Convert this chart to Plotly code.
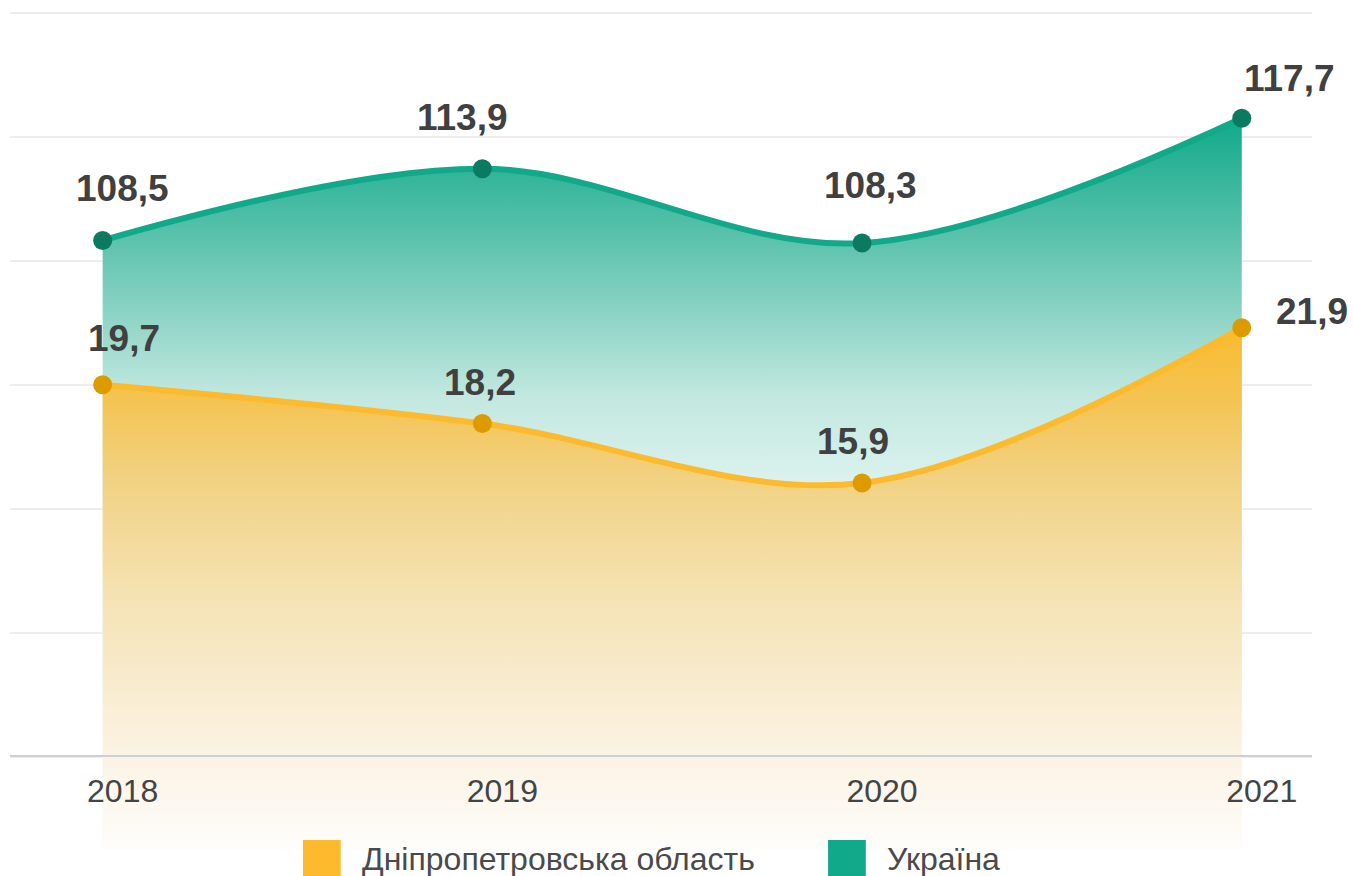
import plotly.graph_objects as go

# Data
years = [2018, 2019, 2020, 2021]
dnipro = [19.7, 18.2, 15.9, 21.9]
ukraine = [108.5, 113.9, 108.3, 117.7]
series_names = ["Дніпропетровська область", "Україна"]

# Styles
FONT = "Liberation Sans, Arial, sans-serif"
ORANGE = "#fdba2c"
ORANGE_DOT = "#de9b00"
TEAL = "#10a98a"
TEAL_DOT = "#0a7b61"
LABEL_COLOR = "#404040"

# label offsets (px) relative to each point
ukr_shift = [(20, 52), (-20, 51), (8, 58), (48, 40)]
dnp_shift = [(21, 46), (-2, 41), (-9, 41), (70, 16)]


def fmt(v):
    return f"{v:.1f}".replace(".", ",")


fig = go.Figure()

fig.add_trace(go.Scatter(
    x=years, y=ukraine, name=series_names[1], yaxis="y",
    mode="lines+markers",
    line=dict(color=TEAL, width=6, shape="spline", smoothing=1),
    marker=dict(color=TEAL_DOT, size=19),
    fill="tozeroy",
    fillgradient=dict(type="vertical", start=62.6, stop=117.7,
                      colorscale=[[0, "#f5fbfa"], [0.48, "#e0f4f0"], [0.62, "#c2e8e0"],
                                  [0.83, "#5ec3ae"], [1, "#11a98a"]]),
    showlegend=False, hoverinfo="skip",
))

fig.add_trace(go.Scatter(
    x=years, y=dnipro, name=series_names[0], yaxis="y2",
    mode="lines+markers",
    line=dict(color=ORANGE, width=6, shape="spline", smoothing=1),
    marker=dict(color=ORANGE_DOT, size=19),
    fill="tozeroy",
    fillgradient=dict(type="vertical", start=1.71, stop=21.9,
                      colorscale=[[0, "#fefdfb"], [0.18, "#fbf3e4"], [0.48, "#f5e3b5"],
                                  [0.71, "#f1d283"], [0.86, "#f4c453"], [1, "#f9bb2f"]]),
    showlegend=False, hoverinfo="skip",
))

annotations = []
for yr, v, (dx, dy) in zip(years, ukraine, ukr_shift):
    annotations.append(dict(x=yr, y=v, xref="x", yref="y", text=fmt(v), showarrow=False,
                            xshift=dx, yshift=dy,
                            font=dict(family=FONT, size=37, color=LABEL_COLOR, weight="bold")))
for yr, v, (dx, dy) in zip(years, dnipro, dnp_shift):
    annotations.append(dict(x=yr, y=v, xref="x", yref="y2", text=fmt(v), showarrow=False,
                            xshift=dx, yshift=dy,
                            font=dict(family=FONT, size=37, color=LABEL_COLOR, weight="bold")))

# hand-made legend (big square swatches)
shapes = []
legend_items = [(series_names[0], ORANGE, 0.225), (series_names[1], TEAL, 0.6283)]
for name, color, lx in legend_items:
    shapes.append(dict(type="rect", xref="paper", yref="paper",
                       x0=lx, x1=lx + 0.0290, y0=0.0119, y1=-0.0330,
                       fillcolor=color, line=dict(width=0)))
    annotations.append(dict(x=lx + 0.0435, y=-0.0105, xref="paper", yref="paper",
                            text=name, showarrow=False, xanchor="left", yanchor="middle",
                            font=dict(family=FONT, size=32, color="#4a4a4a")))

fig.update_layout(
    width=1353, height=876, autosize=False,
    margin=dict(l=10, r=41, t=12, b=26),
    paper_bgcolor="white", plot_bgcolor="white",
    font=dict(family=FONT),
    showlegend=False,
    xaxis=dict(range=[2017.756, 2021.185], tickvals=years, anchor="free", position=0.1122,
               showline=True, linecolor="#cdd1d5", linewidth=2, showgrid=False, zeroline=False,
               ticks="", ticklabelshift=20, ticklabelstandoff=7,
               tickfont=dict(family=FONT, size=32, color="#444444")),
    yaxis=dict(range=[62.6, 125.7], tick0=125.6, dtick=9.337, showticklabels=False,
               showgrid=True, gridcolor="#ededed", gridwidth=1.5, zeroline=False),
    yaxis2=dict(range=[1.71, 34.11], overlaying="y", side="right", showgrid=False,
                showticklabels=False, zeroline=False),
    annotations=annotations,
    shapes=shapes,
)

fig.write_html("out.html", config={"displayModeBar": False},
               post_script="document.body.style.margin='0';")
